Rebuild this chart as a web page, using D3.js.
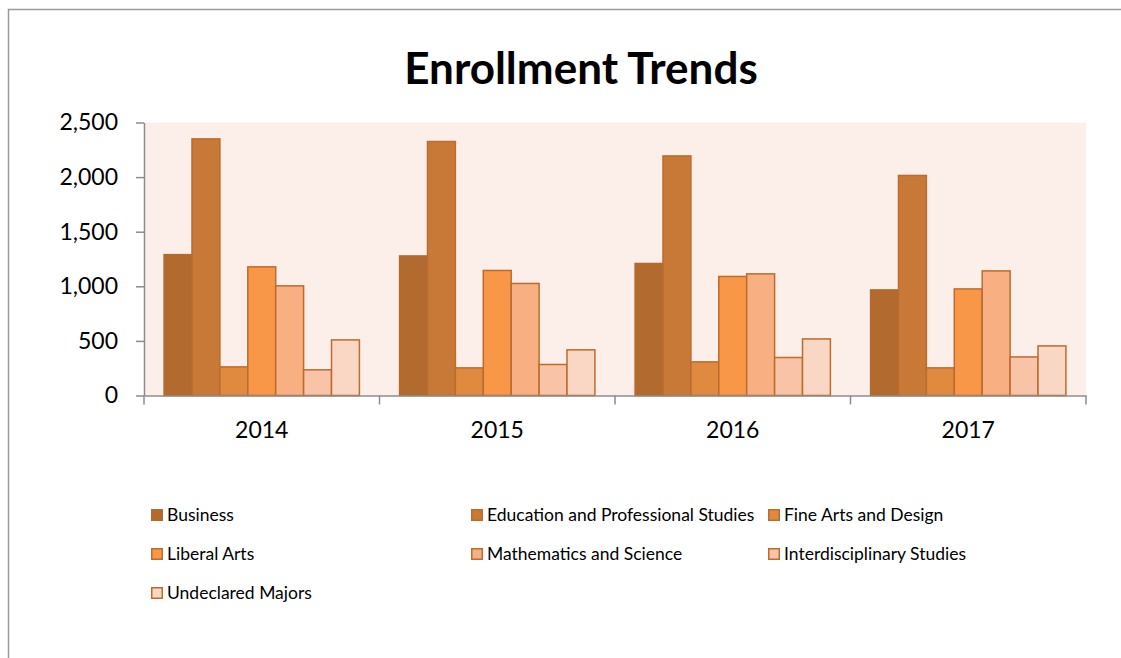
<!DOCTYPE html>
<html>
<head>
<meta charset="utf-8">
<script src="https://cdn.jsdelivr.net/npm/d3@7"></script>
<style>
  html, body { margin: 0; padding: 0; background: #fff; }
  svg { display: block; font-family: Lato, "Open Sans", sans-serif; }
</style>
</head>
<body>
<div id="chart"></div>
<script>
const years = ["2014", "2015", "2016", "2017"];
const seriesNames = [
  "Business",
  "Education and Professional Studies",
  "Fine Arts and Design",
  "Liberal Arts",
  "Mathematics and Science",
  "Interdisciplinary Studies",
  "Undeclared Majors"
];
// values per series, in year order
const business = [1290, 1278, 1209, 967];
const education = [2350, 2326, 2194, 2015];
const fineArts = [262, 253, 308, 253];
const liberalArts = [1178, 1145, 1090, 976];
const mathScience = [1004, 1026, 1114, 1141];
const interdisciplinary = [235, 284, 348, 353];
const undeclared = [509, 418, 518, 454];
const yTicks = [0, 500, 1000, 1500, 2000, 2500];

const seriesValues = [business, education, fineArts, liberalArts, mathScience, interdisciplinary, undeclared];
const fills = ["#b36a2f", "#c87937", "#e08a40", "#f79747", "#f8af82", "#f9c3a8", "#fad6c5"];
const strokeColor = "#bb6c2e";

const W = 1121, H = 658;
const plot = { left: 144, right: 1086, top: 122.5, bottom: 395.5 };

const svg = d3.select("#chart").append("svg").attr("width", W).attr("height", H);

// outer chart frame
svg.append("rect")
  .attr("x", 8.5).attr("y", 9.5)
  .attr("width", W + 20).attr("height", H + 20)
  .attr("fill", "#fff")
  .attr("stroke", "#9a9a9a")
  .attr("stroke-width", 1.5);

svg.append("text")
  .attr("x", 581).attr("y", 84)
  .attr("text-anchor", "middle")
  .attr("font-size", 44)
  .attr("font-weight", "bold")
  .attr("fill", "#000")
  .text("Enrollment Trends");

const x0 = d3.scaleBand().domain(years).range([plot.left, plot.right]).padding(0);
const x1 = d3.scaleBand().domain(seriesNames).range([0, x0.bandwidth()])
  .paddingInner(0).paddingOuter(0.72);
const y = d3.scaleLinear().domain([0, 2500]).range([plot.bottom, plot.top]);

svg.append("rect")
  .attr("x", plot.left).attr("y", plot.top)
  .attr("width", plot.right - plot.left).attr("height", plot.bottom - plot.top)
  .attr("fill", "#fcefea");

const groups = svg.selectAll(".year")
  .data(years)
  .join("g")
  .attr("class", "year")
  .attr("transform", d => `translate(${x0(d)},0)`);

groups.selectAll("rect")
  .data((yr, i) => seriesNames.map((s, j) => ({ s, j, v: seriesValues[j][i] })))
  .join("rect")
  .attr("x", d => x1(d.s))
  .attr("y", d => y(d.v))
  .attr("width", x1.bandwidth())
  .attr("height", d => plot.bottom - y(d.v))
  .attr("fill", d => fills[d.j])
  .attr("stroke", d => d.j === 0 ? fills[0] : strokeColor)
  .attr("stroke-width", 1.5);

// y axis
const yAxis = svg.append("g")
  .attr("transform", `translate(${plot.left},0)`)
  .call(d3.axisLeft(y).tickValues(yTicks).tickFormat(d3.format(",")).tickSizeInner(8).tickSizeOuter(0).tickPadding(18));
yAxis.select(".domain").attr("stroke", "#8c8c8c").attr("stroke-width", 1.5);
yAxis.selectAll(".tick line").attr("stroke", "#8c8c8c").attr("stroke-width", 1.5);
yAxis.selectAll(".tick text").attr("font-size", 23).attr("font-family", "Lato, sans-serif").attr("fill", "#000");

// x axis: labels centered, ticks at category boundaries
const xAxis = svg.append("g")
  .attr("transform", `translate(0,${plot.bottom})`)
  .call(d3.axisBottom(x0).tickSize(0).tickPadding(26));
xAxis.select(".domain").attr("stroke", "#8c8c8c").attr("stroke-width", 1.5);
xAxis.selectAll(".tick text").attr("font-size", 23).attr("font-family", "Lato, sans-serif").attr("fill", "#000");
xAxis.selectAll(".boundary")
  .data(years.map(d => x0(d)).concat([plot.right]))
  .join("line")
  .attr("class", "boundary")
  .attr("x1", d => d).attr("x2", d => d)
  .attr("y1", 0).attr("y2", 9)
  .attr("stroke", "#8c8c8c").attr("stroke-width", 1.5);

// legend
const legendCols = [151, 471, 768];
const legendRows = [515, 554, 593];
const legend = svg.selectAll(".legend-item")
  .data(seriesNames)
  .join("g")
  .attr("class", "legend-item")
  .attr("transform", (d, i) => `translate(${legendCols[i % 3]},${legendRows[Math.floor(i / 3)]})`);

legend.append("rect")
  .attr("x", 0.75).attr("y", -5.25)
  .attr("width", 10.5).attr("height", 10.5)
  .attr("fill", (d, i) => fills[i])
  .attr("stroke", (d, i) => i === 0 ? fills[0] : strokeColor)
  .attr("stroke-width", 1.5);

legend.append("text")
  .attr("x", 16).attr("y", 0)
  .attr("dy", "0.36em")
  .attr("font-size", 17.5)
  .attr("fill", "#000")
  .text(d => d);
</script>
</body>
</html>
